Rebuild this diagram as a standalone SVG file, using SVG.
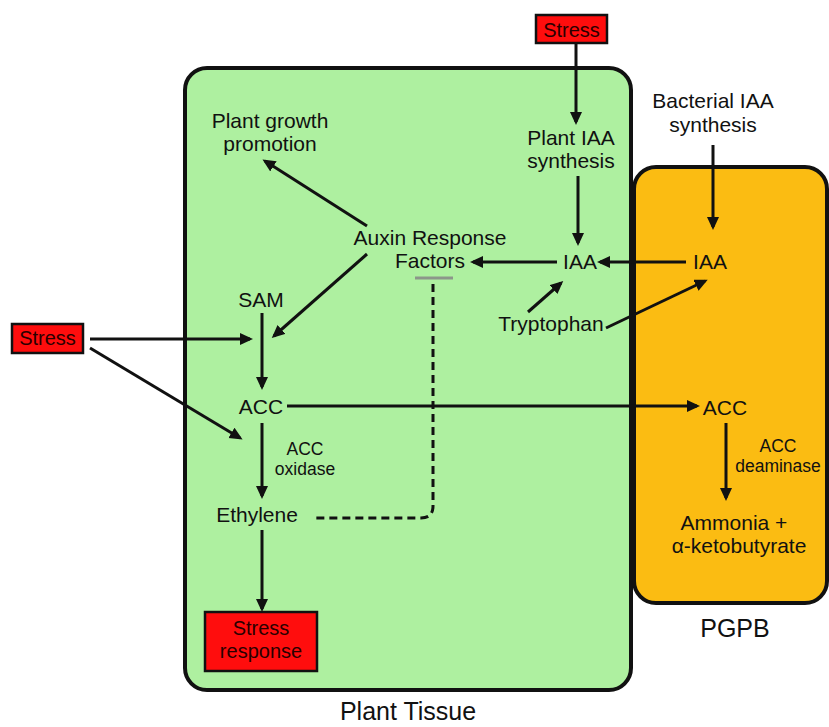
<svg xmlns="http://www.w3.org/2000/svg" width="829" height="727" viewBox="0 0 829 727">
<style>
text{font-family:"Liberation Sans",Arial,sans-serif;fill:#111;text-anchor:middle}
.m{font-size:21px}
.s{font-size:17.5px}
.st{font-size:20px;fill:#2a0000}
.box{fill:#ff0d0d;stroke:#111;stroke-width:2.5}
.c line,.c path.a{stroke:#111;stroke-width:3;fill:none}
</style>
<defs>
<marker id="ah" markerUnits="userSpaceOnUse" markerWidth="14" markerHeight="14" refX="10" refY="6" orient="auto">
<path d="M0,0 L13,6 L0,12 z" fill="#111"/>
</marker>
</defs>
<rect width="829" height="727" fill="#fff"/>
<g id="plant-tissue">
<rect x="185" y="68" width="446" height="622" rx="22" fill="#aef0a0" stroke="#111" stroke-width="4"/>
<text class="m" x="408" y="720" style="font-size:25px">Plant Tissue</text>
</g>
<g id="pgpb">
<rect x="634" y="167" width="193" height="436" rx="22" fill="#fbbc12" stroke="#111" stroke-width="4"/>
<text class="m" x="735" y="637" style="font-size:25px">PGPB</text>
</g>
<g id="stress-top"><rect class="box" x="536" y="15" width="71" height="28"/><text class="st" x="571.5" y="37">Stress</text></g>
<g id="stress-left"><rect class="box" x="12" y="324" width="71" height="29"/><text class="st" x="47.5" y="345">Stress</text></g>
<g id="stress-response"><rect class="box" x="205" y="612" width="112" height="59"/><text class="st" x="261" y="635">Stress</text><text class="st" x="261" y="658">response</text></g>
<g id="plant-iaa-synthesis"><text class="m" x="571" y="145">Plant IAA</text><text class="m" x="571" y="168">synthesis</text></g>
<g id="bacterial-iaa-synthesis"><text class="m" x="713" y="108">Bacterial IAA</text><text class="m" x="713" y="132">synthesis</text></g>
<g id="plant-growth"><text class="m" x="270" y="128">Plant growth</text><text class="m" x="270" y="151">promotion</text></g>
<g id="arf"><text class="m" x="430" y="245">Auxin Response</text><text class="m" x="430" y="268">Factors</text></g>
<g id="iaa-plant"><text class="m" x="580" y="269">IAA</text></g>
<g id="iaa-bact"><text class="m" x="710" y="269">IAA</text></g>
<g id="tryptophan"><text class="m" x="551" y="331">Tryptophan</text></g>
<g id="sam"><text class="m" x="261" y="307">SAM</text></g>
<g id="acc-plant"><text class="m" x="261" y="414">ACC</text></g>
<g id="acc-oxidase"><text class="s" x="305" y="455">ACC</text><text class="s" x="305" y="475">oxidase</text></g>
<g id="ethylene"><text class="m" x="257" y="522">Ethylene</text></g>
<g id="acc-bact"><text class="m" x="725" y="415">ACC</text></g>
<g id="acc-deaminase"><text class="s" x="778" y="452">ACC</text><text class="s" x="778" y="472">deaminase</text></g>
<g id="ammonia"><text class="m" x="734" y="530">Ammonia +</text><text class="m" x="739" y="553">α-ketobutyrate</text></g>
<g id="connectors" class="c">
<line x1="576" y1="44" x2="576" y2="122" marker-end="url(#ah)"/>
<line x1="578" y1="176" x2="578" y2="243" marker-end="url(#ah)"/>
<line x1="713" y1="145" x2="713" y2="227" marker-end="url(#ah)"/>
<line x1="686" y1="262" x2="600" y2="262" marker-end="url(#ah)"/>
<line x1="557" y1="262" x2="473" y2="262" marker-end="url(#ah)"/>
<line x1="528" y1="312" x2="561" y2="283" marker-end="url(#ah)"/>
<line x1="606" y1="328" x2="705" y2="281" marker-end="url(#ah)"/>
<line x1="367" y1="226" x2="265" y2="161" marker-end="url(#ah)"/>
<line x1="367" y1="254" x2="274" y2="336" marker-end="url(#ah)"/>
<line x1="262" y1="313" x2="262" y2="387" marker-end="url(#ah)"/>
<line x1="90" y1="339" x2="250" y2="339" marker-end="url(#ah)"/>
<line x1="90" y1="348" x2="240" y2="438" marker-end="url(#ah)"/>
<line x1="287" y1="406" x2="697" y2="406" marker-end="url(#ah)"/>
<line x1="262" y1="423" x2="262" y2="496" marker-end="url(#ah)"/>
<line x1="262" y1="530" x2="262" y2="609" marker-end="url(#ah)"/>
<line x1="726" y1="423" x2="726" y2="498" marker-end="url(#ah)"/>
<line x1="415" y1="278" x2="453" y2="278" style="stroke:#8c968a;stroke-width:3"/>
<path d="M433,284 V506 Q433,518 421,518 H312" style="stroke:#111;stroke-width:3;fill:none;stroke-dasharray:8 5"/>
</g>
</svg>
